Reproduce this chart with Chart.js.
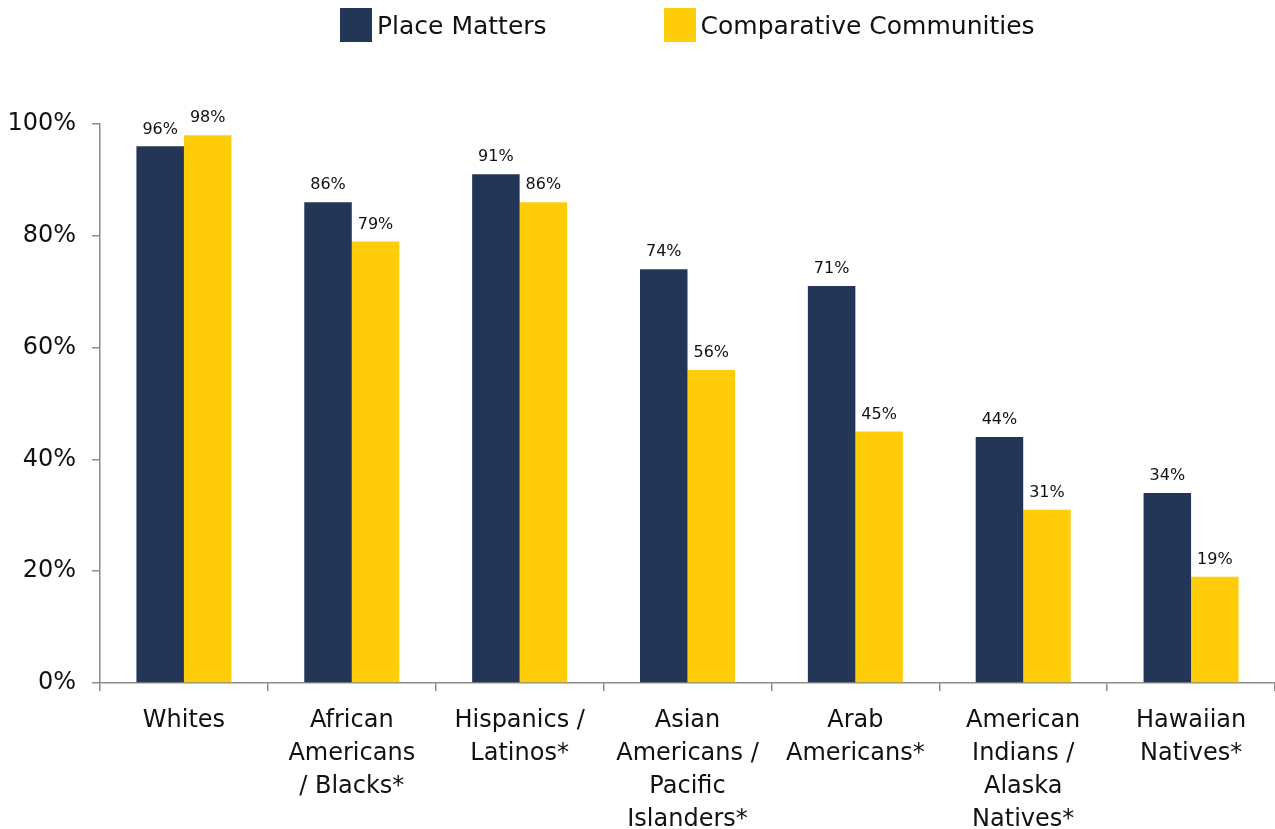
<!DOCTYPE html>
<html>
<head>
<meta charset="utf-8">
<script src="https://cdn.jsdelivr.net/npm/chart.js@4"></script>
<style>
    html, body { margin: 0; padding: 0; background: #ffffff; }
    #wrap { position: relative; width: 1275px; height: 829px; overflow: hidden; }
    #legend {
        position: absolute; top: 8px; left: 340px;
        display: flex;
        font-family: 'DejaVu Sans', sans-serif; font-size: 25px; color: #111;
    }
    .item { display: flex; align-items: center; }
    .item + .item { margin-left: 117px; }
    .swatch { width: 32px; height: 34px; margin-right: 5px; }
</style>
</head>
<body>
<div id="wrap">
    <div id="legend"></div>
    <canvas id="groupChart" width="1275" height="829"></canvas>
</div>
<script>
// Share of residents by group: Place Matters vs comparative communities

const categories = [
    ['Whites'],
    ['African', 'Americans', '/ Blacks*'],
    ['Hispanics /', 'Latinos*'],
    ['Asian', 'Americans /', 'Pacific', 'Islanders*'],
    ['Arab', 'Americans*'],
    ['American', 'Indians /', 'Alaska', 'Natives*'],
    ['Hawaiian', 'Natives*']
];
const placeMatters = [96, 86, 91, 74, 71, 44, 34];
const comparative = [98, 79, 86, 56, 45, 31, 19];
const yTicks = [0, 20, 40, 60, 80, 100];

const seriesNames = ['Place Matters', 'Comparative Communities'];
const seriesColors = ['#243655', '#FFCC0A'];

const FONT = "'DejaVu Sans', sans-serif";

// value labels above each bar
const barLabels = {
    id: 'barLabels',
    afterDatasetsDraw(chart) {
        const ctx = chart.ctx;
        ctx.save();
        ctx.font = '16px ' + FONT;
        ctx.fillStyle = '#111';
        ctx.textAlign = 'center';
        ctx.textBaseline = 'bottom';
        chart.data.datasets.forEach((dataset, i) => {
            const meta = chart.getDatasetMeta(i);
            meta.data.forEach((bar, index) => {
                ctx.fillText(dataset.data[index] + '%', bar.x, bar.y - 9);
            });
        });
        ctx.restore();
    }
};

const ctx = document.getElementById('groupChart').getContext('2d');
const chart = new Chart(ctx, {
    type: 'bar',
    data: {
        labels: categories,
        datasets: [{
            label: seriesNames[0],
            data: placeMatters,
            backgroundColor: seriesColors[0]
        }, {
            label: seriesNames[1],
            data: comparative,
            backgroundColor: seriesColors[1]
        }]
    },
    options: {
        responsive: false,
        animation: false,
        categoryPercentage: 0.566,
        barPercentage: 1.0,
        layout: {
            padding: { top: 124, right: 0, left: 0, bottom: 0 }
        },
        scales: {
            y: {
                min: 0,
                max: 100,
                afterBuildTicks: axis => {
                    axis.ticks = yTicks.map(v => ({ value: v }));
                },
                afterFit: axis => { axis.width = 100; },
                ticks: {
                    color: '#111',
                    padding: 16,
                    font: { family: FONT, size: 24 },
                    callback: value => value + '%'
                },
                border: { color: '#8c8c8c', width: 1.5 },
                grid: {
                    drawOnChartArea: false,
                    tickLength: 8,
                    color: '#8c8c8c',
                    lineWidth: 1.5
                }
            },
            x: {
                afterFit: axis => { axis.height = 146; },
                ticks: {
                    color: '#111',
                    padding: 13,
                    maxRotation: 0,
                    autoSkip: false,
                    font: { family: FONT, size: 24, lineHeight: 1.375 }
                },
                border: { color: '#8c8c8c', width: 1.5 },
                grid: {
                    offset: true,
                    drawOnChartArea: false,
                    tickLength: 8,
                    color: '#8c8c8c',
                    lineWidth: 1.5
                }
            }
        },
        plugins: {
            legend: { display: false },
            tooltip: { enabled: false }
        }
    },
    plugins: [barLabels]
});

// legend row built from the datasets
const legendEl = document.getElementById('legend');
chart.data.datasets.forEach(ds => {
    const item = document.createElement('div');
    item.className = 'item';
    const sw = document.createElement('span');
    sw.className = 'swatch';
    sw.style.background = ds.backgroundColor;
    const txt = document.createElement('span');
    txt.textContent = ds.label;
    item.appendChild(sw);
    item.appendChild(txt);
    legendEl.appendChild(item);
});
</script>
</body>
</html>
